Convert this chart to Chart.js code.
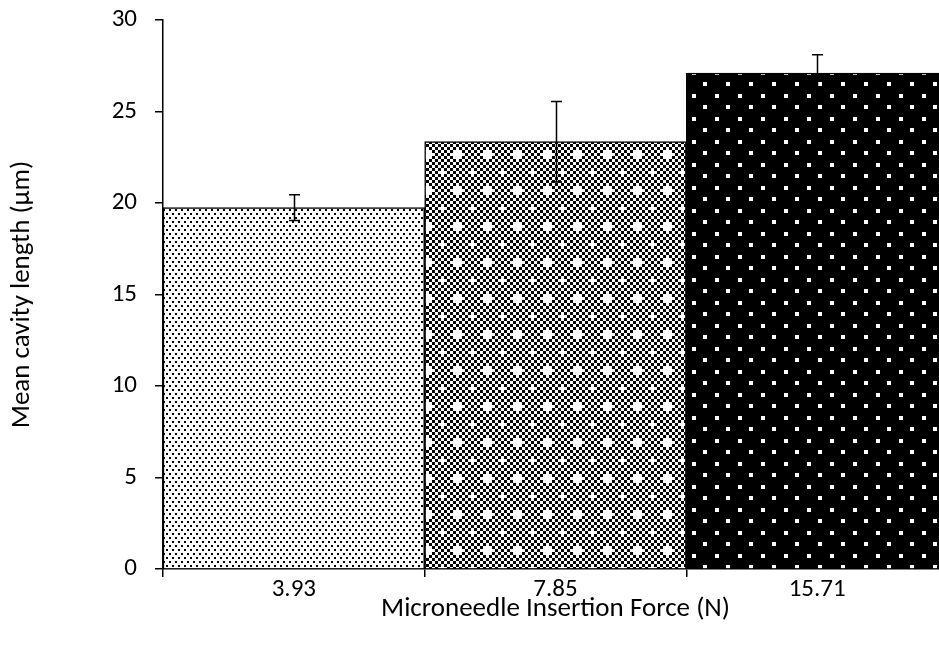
<!DOCTYPE html>
<html>
<head>
<meta charset="utf-8">
<script src="https://cdn.jsdelivr.net/npm/chart.js@4/dist/chart.umd.min.js"></script>
<style>
  html, body { margin: 0; padding: 0; background: #fff; overflow: hidden; }
  #wrap { width: 939px; height: 655px; overflow: hidden; position: relative; }
  #box { width: 960px; height: 655px; position: absolute; left: 0; top: 0; }
</style>
</head>
<body>
<div id="wrap"><div id="box"><canvas id="c"></canvas></div></div>
<script>
// Insertion forces (N) and resulting mean cavity lengths (µm)
const forces = ['3.93', '7.85', '15.71'];
const meanLength = [19.75, 23.35, 27.1];
const errLength = [0.7, 2.2, 1.0];
const yTicks = [0, 5, 10, 15, 20, 25, 30];

const FONT = 'Carlito, "Open Sans", "Liberation Sans", sans-serif';

function tile(w, h, draw) {
  const c = document.createElement('canvas');
  c.width = w; c.height = h;
  const g = c.getContext('2d');
  draw(g, w, h);
  return g.createPattern(c, 'repeat');
}

// light stipple
const dots = tile(6, 8, (g) => {
  g.fillStyle = '#fff'; g.fillRect(0, 0, 6, 8);
  g.fillStyle = '#000';
  g.fillRect(1, 1, 2, 2);
  g.fillRect(4, 5, 2, 2);
});

// fine checkerboard with small white crosses
const checker = tile(30, 36, (g) => {
  const cs = 3;
  for (let i = 0; i < 10; i++) {
    for (let j = 0; j < 12; j++) {
      g.fillStyle = (i + j) % 2 === 0 ? '#000' : '#fff';
      g.fillRect(i * cs, j * cs, cs, cs);
    }
  }
  g.fillStyle = '#fff';
  const plus = (px, py) => {
    g.fillRect(px - 1, py - 4, 3, 9);
    g.fillRect(px - 4, py - 1, 9, 3);
  };
  plus(7, 10);
  plus(22, 28);
});

// black with white squares
const squares = tile(23, 23, (g) => {
  g.fillStyle = '#000'; g.fillRect(0, 0, 23, 23);
  g.fillStyle = '#fff';
  g.fillRect(2, 2, 4, 4);
  g.fillRect(13, 13, 4, 4);
});

const errorBars = {
  id: 'errorBars',
  afterDatasetsDraw(chart) {
    const ctx = chart.ctx;
    const meta = chart.getDatasetMeta(0);
    const y = chart.scales.y;
    ctx.save();
    ctx.strokeStyle = '#000';
    ctx.lineWidth = 1.5;
    meta.data.forEach((bar, i) => {
      const x = Math.round(bar.x) + 0.5;
      const top = y.getPixelForValue(meanLength[i] + errLength[i]);
      const bot = y.getPixelForValue(meanLength[i] - errLength[i]);
      ctx.beginPath();
      ctx.moveTo(x, top); ctx.lineTo(x, bot);
      ctx.moveTo(x - 5.5, top); ctx.lineTo(x + 5.5, top);
      ctx.moveTo(x - 5.5, bot); ctx.lineTo(x + 5.5, bot);
      ctx.stroke();
    });
    ctx.restore();
  }
};

new Chart(document.getElementById('c'), {
  type: 'bar',
  data: {
    labels: forces,
    datasets: [{
      data: meanLength,
      backgroundColor: [dots, checker, squares],
      borderColor: '#000',
      borderWidth: 1.5,
      barPercentage: 1,
      categoryPercentage: 1
    }]
  },
  options: {
    responsive: true,
    maintainAspectRatio: false,
    animation: false,
    events: [],
    layout: { padding: { left: 0, right: 12, top: 20, bottom: 30 } },
    plugins: { legend: { display: false }, tooltip: { enabled: false } },
    scales: {
      x: {
        grid: { display: true, drawOnChartArea: false, drawTicks: true, tickLength: 8, color: '#000', lineWidth: 1.5 },
        border: { display: true, color: '#000', width: 1.5 },
        ticks: { color: '#000', font: { family: FONT, size: 25 }, padding: -2 },
        title: { display: true, text: 'Microneedle Insertion Force (N)', color: '#000', font: { family: FONT, size: 27 }, padding: { top: 0, bottom: 0 } },
        afterFit(s) { s.height = 56; s.paddingLeft = 0; s.paddingRight = 0; }
      },
      y: {
        min: 0, max: 30,
        afterBuildTicks(s) { s.ticks = yTicks.map(v => ({ value: v })); },
        grid: { display: true, drawOnChartArea: false, drawTicks: true, tickLength: 8, color: '#000', lineWidth: 1.5 },
        border: { display: true, color: '#000', width: 1.5 },
        ticks: { color: '#000', font: { family: FONT, size: 25 }, padding: 18 },
        title: { display: true, text: 'Mean cavity length (µm)', color: '#000', font: { family: FONT, size: 27 }, padding: { top: 6, bottom: 0 } },
        afterFit(s) { s.width = 163; s.paddingTop = 0; s.paddingBottom = 0; }
      }
    }
  },
  plugins: [errorBars]
});
</script>
</body>
</html>
